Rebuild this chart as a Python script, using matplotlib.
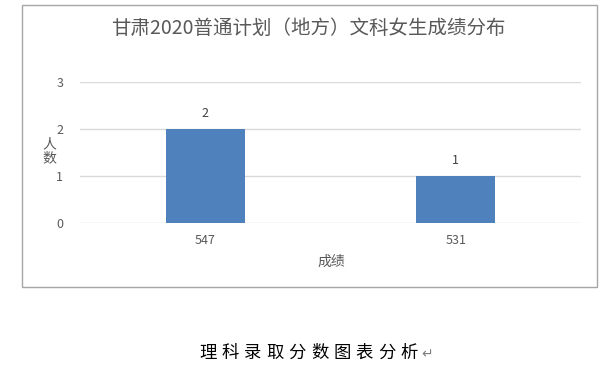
import matplotlib
matplotlib.use("Agg")
import matplotlib.pyplot as plt
from matplotlib.patches import Rectangle

plt.rcParams["font.family"] = ["Noto Sans CJK SC", "DejaVu Sans"]

# Chart data
scores = ["547", "531"]
counts = [2, 1]
yTicks = [0, 1, 2, 3]
title = "甘肃2020普通计划（地方）文科女生成绩分布"
caption = "理科录取分数图表分析"

W, H = 600, 382
fig = plt.figure(figsize=(W / 100, H / 100), dpi=100)

# Outer chart frame (pixel box converted to figure fraction)
fig.patches.append(Rectangle((22 / W, 1 - 287 / H), (597 - 22) / W, (287 - 5) / H,
                             transform=fig.transFigure, fill=False,
                             edgecolor="#a6a6a6", linewidth=1.0))

# Plot area: x 80..581 px, y=0 at 222.5 px, y=3 at 81.5 px
ax = fig.add_axes([80 / W, 1 - 222.5 / H, (581 - 80) / W, (222.5 - 81.5) / H])
x = range(len(scores))
bars = ax.bar(x, counts, width=0.315, color="#4F81BD", zorder=3)

ax.set_xlim(-0.5, len(scores) - 0.5)
ax.set_ylim(0, 3)
ax.set_yticks(yTicks)
ax.set_xticks(list(x))
ax.set_xticklabels(scores)
ax.yaxis.grid(True, color="#d9d9d9", linewidth=1.0, zorder=0)
ax.tick_params(length=0, labelsize=9, labelcolor="#595959")
ax.tick_params(axis="x", pad=8)
ax.tick_params(axis="y", pad=12)
for s in ax.spines.values():
    s.set_visible(False)

# Value labels above bars
for b, c in zip(bars, counts):
    ax.annotate(str(c), (b.get_x() + b.get_width() / 2, c), xytext=(0, 6),
                textcoords="offset points", ha="center", va="bottom",
                fontsize=9, color="#404040")

# Titles and axis labels
fig.text(308 / W, 1 - 28 / H, title, ha="center", va="center",
         fontsize=14, color="#595959")
fig.text(331 / W, 1 - 262 / H, "成绩", ha="center", va="center",
         fontsize=10, color="#595959")
fig.text(49 / W, 1 - 151 / H, "人\n数", ha="center", va="center",
         fontsize=10, color="#595959", linespacing=1.0)

# Caption below the chart, spaced characters
for i, ch in enumerate(caption):
    fig.text((208 + i * 22.3) / W, 1 - 353 / H, ch, ha="center", va="center",
             fontsize=12.5, color="#000000")
fig.text(427 / W, 1 - 354 / H, "↵", ha="center", va="center",
         fontsize=10, color="#808080", family=["DejaVu Sans"])

fig.savefig("out.png", dpi=100)
